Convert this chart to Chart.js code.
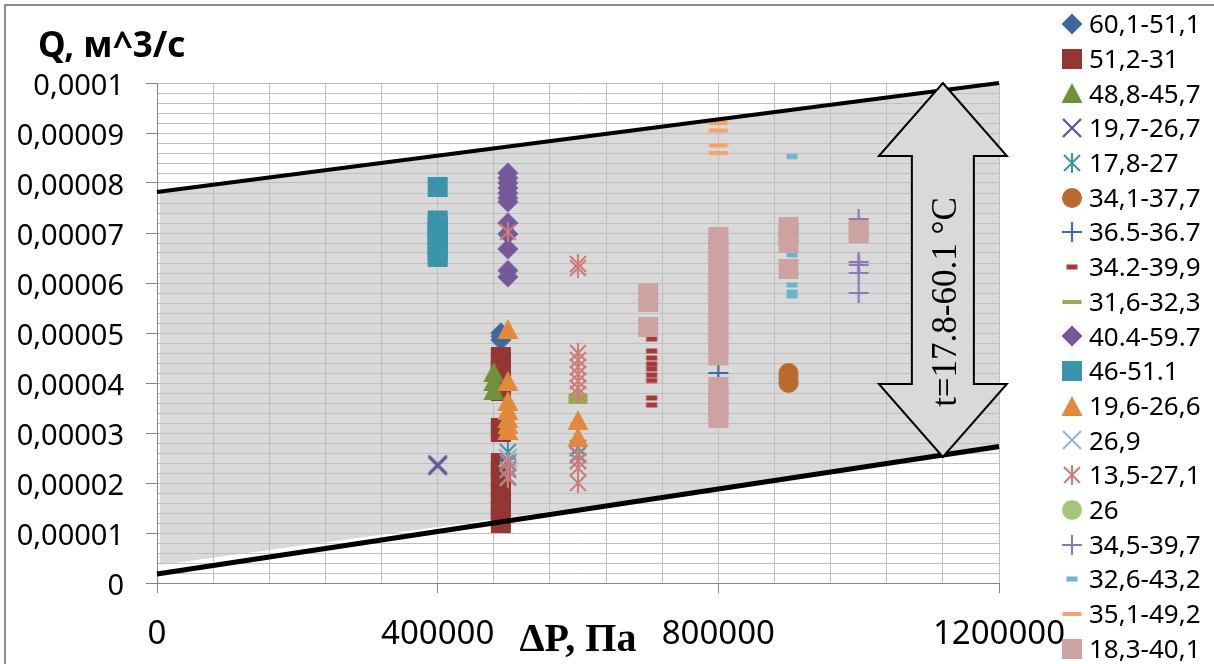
<!DOCTYPE html>
<html>
<head>
<meta charset="utf-8">
<script src="https://cdn.jsdelivr.net/npm/chart.js@4.4.1/dist/chart.umd.min.js"></script>
<style>
    html, body { margin: 0; padding: 0; background: #ffffff; }
    canvas { display: block; }
</style>
</head>
<body>
<canvas id="flow_chart" width="1214" height="664"></canvas>
<script>
"use strict";
// Tick Labels
const xTickValues = [0, 400000, 800000, 1200000];
const xTickLabels = ["0", "400000", "800000", "1200000"];
const yTickValues = [0, 0.00001, 0.00002, 0.00003, 0.00004, 0.00005, 0.00006, 0.00007, 0.00008, 0.00009, 0.0001];
const yTickLabels = ["0", "0,00001", "0,00002", "0,00003", "0,00004", "0,00005", "0,00006", "0,00007", "0,00008", "0,00009", "0,0001"];

// Series Names (Temperature Ranges)
const seriesNames = ["60,1-51,1", "51,2-31", "48,8-45,7", "19,7-26,7", "17,8-27", "34,1-37,7", "36.5-36.7", "34.2-39,9", "31,6-32,3",
    "40.4-59.7", "46-51.1", "19,6-26,6", "26,9", "13,5-27,1", "26", "34,5-39,7", "32,6-43,2", "35,1-49,2", "18,3-40,1"];
const seriesMarkers = ["diamond", "square", "triangle", "x", "star", "circle", "plus", "dash", "longdash",
    "diamond", "square", "triangle", "x", "star", "circle", "plus", "dash", "longdash", "square"];
const seriesColors = ["#3F689E", "#933634", "#71903A", "#6B559A", "#3A93AB", "#B96B2E", "#3F6AA8", "#A8393A", "#8DB24F",
    "#75599C", "#3A94AC", "#E2893B", "#9DB7DA", "#CF7B78", "#A9C47E", "#8C7AB4", "#6DB3CB", "#F4A46B", "#CDA3A2"];

// Series Data - [ΔP, [Q, Q, ...]]
const s01 = [[490000, [5.0e-5, 4.93e-5, 4.86e-5]]];
const s02 = [[490000, [4.52e-5, 4.42e-5, 4.3e-5, 4.16e-5, 4.0e-5, 3.84e-5, 3.1e-5, 3.02e-5, 2.4e-5, 2.26e-5, 2.1e-5, 1.94e-5, 1.78e-5, 1.62e-5, 1.46e-5, 1.32e-5, 1.2e-5]]];
const s03 = [[480000, [4.22e-5, 4.04e-5, 3.86e-5]]];
const s04 = [[400000, [2.37e-5, 2.34e-5]]];
const s05 = [[500000, [2.62e-5, 2.5e-5, 2.4e-5, 2.28e-5, 2.12e-5]], [600000, [2.7e-5, 2.56e-5, 2.44e-5]]];
const s06 = [[900000, [4.2e-5, 4.1e-5, 4.0e-5]]];
const s07 = [[800000, [4.2e-5]]];
const s08 = [[705000, [4.88e-5, 4.64e-5, 4.5e-5, 4.38e-5, 4.28e-5, 4.16e-5, 4.05e-5, 3.7e-5, 3.56e-5]]];
const s09 = [[600000, [3.75e-5, 3.68e-5, 3.62e-5]]];
const s10 = [[500000, [8.2e-5, 8.1e-5, 8.0e-5, 7.9e-5, 7.8e-5, 7.7e-5, 7.62e-5, 7.2e-5, 6.98e-5, 6.68e-5, 6.25e-5, 6.12e-5]]];
const s11 = [[400000, [7.92e-5, 7.25e-5, 7.15e-5, 7.05e-5, 6.95e-5, 6.85e-5, 6.75e-5, 6.62e-5, 6.52e-5]]];
const s12 = [[500000, [5.08e-5, 4.04e-5, 3.64e-5, 3.46e-5, 3.3e-5, 3.18e-5, 3.06e-5]], [600000, [3.26e-5, 2.92e-5]]];
const s13 = [[500000, [2.5e-5]]];
const s14 = [[500000, [7.02e-5, 2.42e-5, 2.26e-5, 2.1e-5]],
    [600000, [6.38e-5, 6.3e-5, 4.6e-5, 4.46e-5, 4.32e-5, 4.18e-5, 4.04e-5, 3.9e-5, 3.78e-5, 2.58e-5, 2.44e-5, 2.3e-5, 2.0e-5]]];
const s15 = [];
const s16 = [[1000000, [7.28e-5, 6.42e-5, 6.36e-5, 6.2e-5, 5.8e-5]]];
const s17 = [[905000, [8.53e-5, 6.56e-5, 5.96e-5, 5.82e-5, 5.74e-5]]];
const s18 = [[800000, [9.2e-5, 9.05e-5, 8.75e-5, 8.6e-5]]];
const s19 = [[700000, [5.8e-5, 5.62e-5, 5.12e-5]],
    [800000, [6.92e-5, 6.75e-5, 6.55e-5, 6.35e-5, 6.15e-5, 5.95e-5, 5.75e-5, 5.55e-5, 5.35e-5, 5.15e-5, 4.95e-5, 4.75e-5, 4.55e-5, 3.92e-5, 3.75e-5, 3.6e-5, 3.45e-5, 3.3e-5]],
    [900000, [7.12e-5, 6.98e-5, 6.8e-5, 6.28e-5]],
    [1000000, [7.06e-5, 7.0e-5]]];
const seriesData = [s01, s02, s03, s04, s05, s06, s07, s08, s09, s10, s11, s12, s13, s14, s15, s16, s17, s18, s19];

// Boundary Lines
const topLineX = [0, 1200000];
const topLineY = [0.0000782, 0.0001];
const bottomLineX = [0, 1200000];
const bottomLineY = [0.0000018, 0.0000273];
// Gray Band Lower Edge (Drawn Shape, Slightly Off The Line)
const bandBottomY = [0.0000036, 0.0000266];

// Temperature Arrow
const arrowX = 1120000;
const arrowTopQ = 0.0001;
const arrowBottomQ = 0.0000252;
const arrowLabelQ = 0.0000562;
const arrowLabel = "t=17.8-60.1 °C";

// Marker Images (Excel Like Markers)
function makeMarker(shape, color) {
    const marker = document.createElement("canvas");
    marker.width = 24;
    marker.height = 24;
    const ctx = marker.getContext("2d");
    const m = 12;
    ctx.fillStyle = color;
    ctx.strokeStyle = color;
    ctx.beginPath();
    switch (shape) {
        case "diamond":
            ctx.moveTo(m, m - 10.5);
            ctx.lineTo(m + 10.5, m);
            ctx.lineTo(m, m + 10.5);
            ctx.lineTo(m - 10.5, m);
            ctx.closePath();
            ctx.fill();
            break;
        case "square":
            ctx.fillRect(m - 10, m - 10, 20, 20);
            break;
        case "triangle":
            ctx.moveTo(m, m - 10);
            ctx.lineTo(m + 10.5, m + 10);
            ctx.lineTo(m - 10.5, m + 10);
            ctx.closePath();
            ctx.fill();
            break;
        case "circle":
            ctx.arc(m, m, 10, 0, Math.PI * 2);
            ctx.fill();
            break;
        case "x":
            ctx.lineWidth = 2.4;
            ctx.moveTo(m - 9, m - 9);
            ctx.lineTo(m + 9, m + 9);
            ctx.moveTo(m + 9, m - 9);
            ctx.lineTo(m - 9, m + 9);
            ctx.stroke();
            break;
        case "star":
            ctx.lineWidth = 2;
            ctx.moveTo(m - 8, m - 8);
            ctx.lineTo(m + 8, m + 8);
            ctx.moveTo(m + 8, m - 8);
            ctx.lineTo(m - 8, m + 8);
            ctx.moveTo(m, m - 10);
            ctx.lineTo(m, m + 10);
            ctx.stroke();
            break;
        case "plus":
            ctx.lineWidth = 2.2;
            ctx.moveTo(m - 10, m);
            ctx.lineTo(m + 10, m);
            ctx.moveTo(m, m - 10);
            ctx.lineTo(m, m + 10);
            ctx.stroke();
            break;
        case "dash":
            ctx.fillRect(m - 5.5, m - 2.5, 11, 5);
            break;
        case "longdash":
            ctx.fillRect(m - 9.5, m - 2, 19, 4);
            break;
    }
    return marker;
}
const markerImages = seriesMarkers.map(function (shape, i) {
    return makeMarker(shape, seriesColors[i]);
});

// Datasets - Later Series Drawn On Top (Like Excel)
const datasets = seriesData.map(function (groups, i) {
    const points = [];
    groups.forEach(function (group) {
        group[1].forEach(function (q) {
            points.push({ x: group[0], y: q });
        });
    });
    return {
        label: seriesNames[i],
        data: points,
        pointStyle: markerImages[i],
        pointRadius: 10,
        pointHoverRadius: 10,
        showLine: false,
        order: 100 - i,
    };
});
datasets.push({
    label: "top_line",
    data: topLineX.map(function (x, j) { return { x: x, y: topLineY[j] }; }),
    showLine: true, borderColor: "#000000", borderWidth: 4, pointRadius: 0, clip: 6, order: -1,
});
datasets.push({
    label: "bottom_line",
    data: bottomLineX.map(function (x, j) { return { x: x, y: bottomLineY[j] }; }),
    showLine: true, borderColor: "#000000", borderWidth: 5, pointRadius: 0, clip: 6, order: -1,
});

function isMultiple(value, step) {
    const r = value / step;
    return Math.abs(r - Math.round(r)) < 1e-6;
}

// Gray Band And Outer Frame (Under The Grid)
const bandPlugin = {
    id: "bandPlugin",
    beforeDraw: function (chart) {
        const { ctx } = chart;
        const xs = chart.scales.x;
        const ys = chart.scales.y;
        ctx.save();
        ctx.strokeStyle = "#8C8C8C";
        ctx.lineWidth = 2;
        ctx.strokeRect(5, 5, 1400, 1400);
        ctx.fillStyle = "#D9D9D9";
        ctx.beginPath();
        ctx.moveTo(xs.getPixelForValue(topLineX[0]) + 3, ys.getPixelForValue(topLineY[0]));
        ctx.lineTo(xs.getPixelForValue(topLineX[1]), ys.getPixelForValue(topLineY[1]));
        ctx.lineTo(xs.getPixelForValue(bottomLineX[1]), ys.getPixelForValue(bandBottomY[1]));
        ctx.lineTo(xs.getPixelForValue(bottomLineX[0]) + 3, ys.getPixelForValue(bandBottomY[0]));
        ctx.closePath();
        ctx.fill();
        ctx.restore();
    }
};

// Texts, Legend And Arrow
const textPlugin = {
    id: "textPlugin",
    afterDraw: function (chart) {
        const { ctx } = chart;
        const xs = chart.scales.x;
        const ys = chart.scales.y;
        ctx.save();
        ctx.fillStyle = "#000000";
        // Y Tick Labels
        ctx.font = '29px "Noto Sans"';
        ctx.textAlign = "right";
        ctx.textBaseline = "alphabetic";
        yTickValues.forEach(function (v, i) {
            ctx.fillText(yTickLabels[i], 124, ys.getPixelForValue(v) + 2 + 29 * 0.357);
        });
        // X Tick Labels
        ctx.font = '33px "Noto Sans"';
        ctx.textAlign = "center";
        xTickValues.forEach(function (v, i) {
            ctx.fillText(xTickLabels[i], xs.getPixelForValue(v), 632 + 33 * 0.357);
        });
        // Axis Titles
        ctx.font = 'bold 35px "Noto Sans"';
        ctx.textAlign = "left";
        ctx.fillText("Q, м^3/с", 38, 57);
        ctx.font = 'bold 40px "Liberation Serif"';
        ctx.textAlign = "center";
        ctx.fillText("ΔP, Па", (chart.chartArea.left + chart.chartArea.right) / 2, 651);
        // Legend
        ctx.font = '26px "Noto Sans"';
        ctx.textAlign = "left";
        seriesNames.forEach(function (name, i) {
            const row_y = 24 + i * 34.7;
            ctx.drawImage(markerImages[i], 1072 - 12, Math.round(row_y) - 12);
            ctx.fillText(name, 1089, row_y + 26 * 0.357);
        });
        // Double Arrow
        const tip_x = xs.getPixelForValue(arrowX);
        const top_y = ys.getPixelForValue(arrowTopQ);
        const bottom_y = ys.getPixelForValue(arrowBottomQ);
        const head_half = 64, head_len = 73, shaft_half = 31;
        ctx.beginPath();
        ctx.moveTo(tip_x, top_y);
        ctx.lineTo(tip_x + head_half, top_y + head_len);
        ctx.lineTo(tip_x + shaft_half, top_y + head_len);
        ctx.lineTo(tip_x + shaft_half, bottom_y - head_len);
        ctx.lineTo(tip_x + head_half, bottom_y - head_len);
        ctx.lineTo(tip_x, bottom_y);
        ctx.lineTo(tip_x - head_half, bottom_y - head_len);
        ctx.lineTo(tip_x - shaft_half, bottom_y - head_len);
        ctx.lineTo(tip_x - shaft_half, top_y + head_len);
        ctx.lineTo(tip_x - head_half, top_y + head_len);
        ctx.closePath();
        ctx.fillStyle = "#D9D9D9";
        ctx.fill();
        ctx.strokeStyle = "#000000";
        ctx.lineWidth = 2;
        ctx.lineJoin = "miter";
        ctx.stroke();
        ctx.translate(tip_x + 2, ys.getPixelForValue(arrowLabelQ));
        ctx.rotate(-Math.PI / 2);
        ctx.fillStyle = "#000000";
        ctx.font = '35px "Liberation Serif"';
        ctx.textAlign = "center";
        ctx.fillText(arrowLabel, 0, 35 * 0.33);
        ctx.restore();
    }
};

const flow_chart = document.querySelector("#flow_chart");
new Chart(flow_chart, {
    type: "scatter",
    data: { datasets: datasets },
    options: {
        responsive: false,
        animation: false,
        events: [],
        layout: { padding: { left: 147, right: 215, top: 83, bottom: 71 } },
        scales: {
            x: {
                type: "linear",
                min: 0,
                max: 1200000,
                afterFit: function (scale) { scale.height = 10; },
                ticks: { display: false, stepSize: 80000 },
                grid: {
                    color: "#BFBFBF",
                    lineWidth: 1,
                    tickLength: 10,
                    tickColor: function (context) {
                        return context.tick && isMultiple(context.tick.value, 400000) ? "#868686" : "rgba(0,0,0,0)";
                    },
                },
                border: { color: "#868686", width: 1 },
            },
            y: {
                type: "linear",
                min: 0,
                max: 0.0001,
                afterFit: function (scale) { scale.width = 10; },
                ticks: { display: false, stepSize: 0.000002 },
                grid: {
                    color: "#BFBFBF",
                    lineWidth: 1,
                    tickLength: 11,
                    tickColor: function (context) {
                        return context.tick && isMultiple(context.tick.value, 0.00001) ? "#868686" : "rgba(0,0,0,0)";
                    },
                },
                border: { color: "#868686", width: 1 },
            },
        },
        plugins: {
            legend: { display: false },
            tooltip: { enabled: false },
        },
    },
    plugins: [bandPlugin, textPlugin],
});
</script>
</body>
</html>
